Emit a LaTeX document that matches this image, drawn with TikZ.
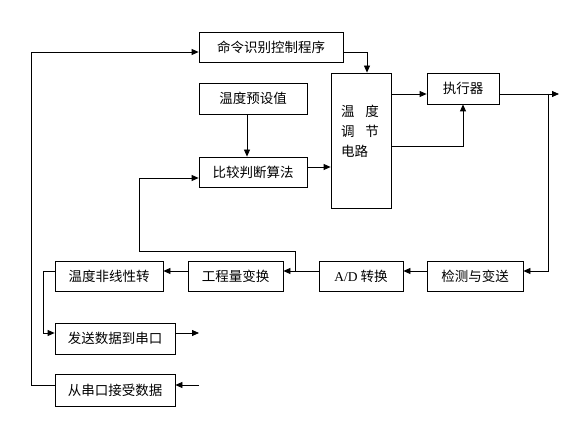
\documentclass[tikz,border=0pt]{standalone}
\usepackage{fontspec}
\setmainfont{Liberation Serif}
\newfontfamily\cjk{Noto Sans CJK SC}
\usetikzlibrary{arrows.meta}
\begin{document}
\begin{tikzpicture}[x=1pt,y=-1pt,
  box/.style={draw,line width=0.8pt,inner sep=0pt,font=\cjk\fontsize{13.5}{16}\selectfont},
  arr/.style={line width=0.8pt,-{Triangle[length=7pt,width=6pt]}},
  ln/.style={line width=0.8pt}]
\useasboundingbox (0,0) rectangle (581,425);
\node[box,minimum width=144pt,minimum height=30pt] (cmd) at (271,47) {命令识别控制程序};
\node[box,minimum width=108pt,minimum height=31pt] (preset) at (253,98.5) {温度预设值};
\node[box,minimum width=108pt,minimum height=30pt] (cmp) at (253,172) {比较判断算法};
\node[box,minimum width=60pt,minimum height=135pt,align=left,text width=40pt] (circ) at (361,140.5) {温\hspace{11pt}度\\[4pt]调\hspace{11pt}节\\[4pt]电路\\[4pt]\mbox{}};
\node[box,minimum width=72pt,minimum height=31pt] (act) at (463,88.5) {执行器};
\node[box,minimum width=96pt,minimum height=30pt] (det) at (475,276) {检测与变送};
\node[box,minimum width=84pt,minimum height=30pt] (ad) at (361,276) {{\rmfamily A/D} 转换};
\node[box,minimum width=95pt,minimum height=30pt] (eng) at (235.5,276) {工程量变换};
\node[box,minimum width=108pt,minimum height=30pt] (nonlin) at (109,276) {温度非线性转};
\node[box,minimum width=120pt,minimum height=31pt] (send) at (115,338.5) {发送数据到串口};
\node[box,minimum width=120pt,minimum height=32pt] (recv) at (115,390) {从串口接受数据};
\coordinate (outR) at (559,94);
\coordinate (sendOut) at (199,333);
\coordinate (recvIn) at (199,385);
\draw[arr] (cmd.east |- 0,52) -| (circ.north -| 367,0);
\draw[arr] (preset.south -| 247,0) -- (cmp.north -| 247,0);
\draw[arr] (cmp.east |- 0,167) -- (circ.west |- 0,167);
\draw[arr] (circ.east |- 0,94) -- (act.west |- 0,94);
\draw[arr] (circ.east |- 0,146) -| (act.south -| 463,0);
\draw[arr] (act.east |- 0,94) -- (outR);
\draw[arr] (548,94) |- (det.east |- 0,271);
\draw[arr] (det.west |- 0,271) -- (ad.east |- 0,271);
\draw[arr] (ad.west |- 0,271) -- (eng.east |- 0,271);
\draw[arr] (295,271) |- (139,251) |- (cmp.west |- 0,178);
\draw[arr] (eng.west |- 0,271) -- (nonlin.east |- 0,271);
\draw[arr] (nonlin.west |- 0,271) -- (43,271) |- (send.west |- 0,333);
\draw[arr] (send.east |- 0,333) -- (sendOut);
\draw[arr] (recvIn) -- (recv.east |- 0,385);
\draw[arr] (recv.west |- 0,385) -- (31,385) |- (cmd.west |- 0,52);
\end{tikzpicture}
\end{document}
